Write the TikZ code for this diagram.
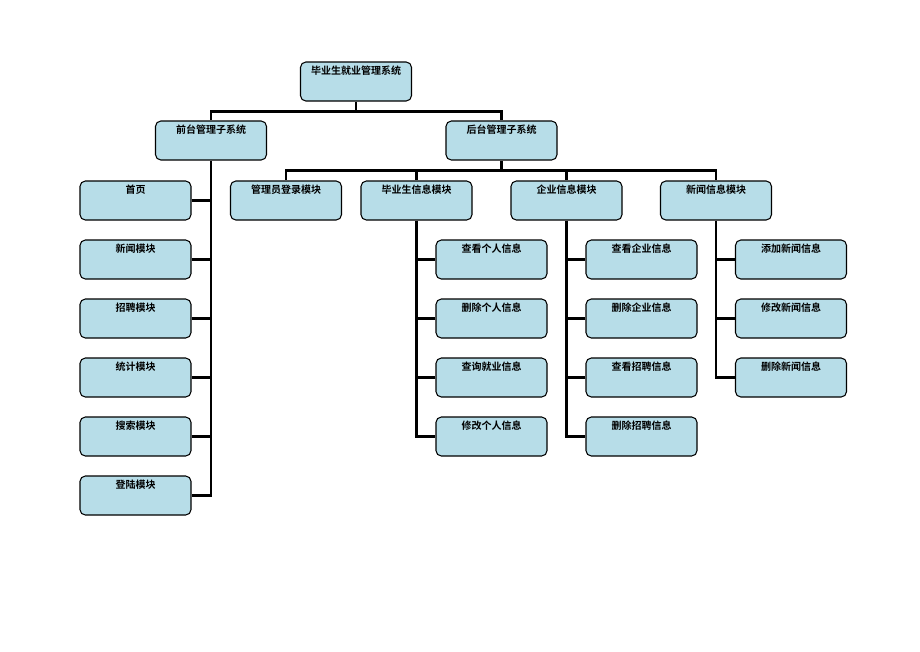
\documentclass[tikz,border=0pt]{standalone}
\usepackage{fontspec}
\usepackage{tikz}
\usepackage{xcolor}
\newfontfamily\cjk{Noto Sans CJK SC}[BoldFont={* Bold}]
\definecolor{boxblue}{HTML}{B7DDE8}
\tikzset{
  modbox/.style={draw=black, fill=boxblue, rounded corners=4pt, line width=0.8pt,
    minimum width=83.25pt, inner xsep=2pt, inner ysep=3pt,
    text height=6pt, text depth=17.25pt, font=\cjk\bfseries\fontsize{7.5}{9}\selectfont},
  link/.style={line width=1.6pt, draw=black}
}
\begin{document}
\begin{tikzpicture}[x=0.75pt,y=0.75pt,yscale=-1,xscale=1]
    \path (0,0) rectangle (920,651);

    % top levels
    \node [modbox] (sys) at (356,81.5) {毕业生就业管理系统};
    \node [modbox] (front) at (211,140.5) {前台管理子系统};
    \node [modbox] (back) at (501.5,140.5) {后台管理子系统};

    % front modules
    \node [modbox] (f1) at (135.5,200.5) {首页};
    \node [modbox] (f2) at (135.5,259.5) {新闻模块};
    \node [modbox] (f3) at (135.5,318.5) {招聘模块};
    \node [modbox] (f4) at (135.5,377.5) {统计模块};
    \node [modbox] (f5) at (135.5,436.5) {搜索模块};
    \node [modbox] (f6) at (135.5,495.5) {登陆模块};

    % back modules
    \node [modbox] (b1) at (286,200.5) {管理员登录模块};
    \node [modbox] (b2) at (416.5,200.5) {毕业生信息模块};
    \node [modbox] (b3) at (566.5,200.5) {企业信息模块};
    \node [modbox] (b4) at (716,200.5) {新闻信息模块};

    % student info
    \node [modbox] (s1) at (491.5,259.5) {查看个人信息};
    \node [modbox] (s2) at (491.5,318.5) {删除个人信息};
    \node [modbox] (s3) at (491.5,377.5) {查询就业信息};
    \node [modbox] (s4) at (491.5,436.5) {修改个人信息};

    % company info
    \node [modbox] (c1) at (641.5,259.5) {查看企业信息};
    \node [modbox] (c2) at (641.5,318.5) {删除企业信息};
    \node [modbox] (c3) at (641.5,377.5) {查看招聘信息};
    \node [modbox] (c4) at (641.5,436.5) {删除招聘信息};

    % news info
    \node [modbox] (n1) at (791,259.5) {添加新闻信息};
    \node [modbox] (n2) at (791,318.5) {修改新闻信息};
    \node [modbox] (n3) at (791,377.5) {删除新闻信息};

    % links
    \draw [link] (sys.south) -- ++(0,10) coordinate (top) -| (front.north);
    \draw [link] (top) -| (back.north);
    \draw [link] (front.south) |- (f6.east);
    \foreach \n in {f1,f2,f3,f4,f5}
      \draw [link] (\n.east) -- (\n.east -| front.south);
    \draw [link] (back.south) -- ++(0,10) coordinate (mid) -| (b1.north);
    \draw [link] (mid) -| (b4.north);
    \draw [link] (mid -| b2.north) -- (b2.north);
    \draw [link] (mid -| b3.north) -- (b3.north);
    \draw [link] (b2.south) |- (s4.west);
    \foreach \n in {s1,s2,s3}
      \draw [link] (\n.west) -- (\n.west -| b2.south);
    \draw [link] (b3.south) |- (c4.west);
    \foreach \n in {c1,c2,c3}
      \draw [link] (\n.west) -- (\n.west -| b3.south);
    \draw [link] (b4.south) |- (n3.west);
    \foreach \n in {n1,n2}
      \draw [link] (\n.west) -- (\n.west -| b4.south);
\end{tikzpicture}
\end{document}
